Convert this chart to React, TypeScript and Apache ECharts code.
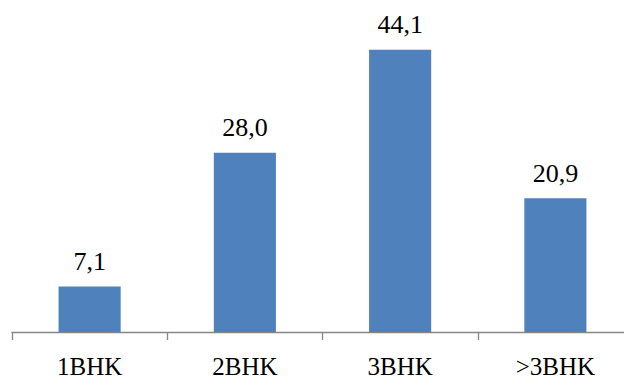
import React, { useEffect, useRef } from "react";
import * as echarts from "echarts";

// Apartment size categories and their shares (%)
const categories = ["1BHK", "2BHK", "3BHK", ">3BHK"];
const shares = [7.1, 28.0, 44.1, 20.9];

const fmt = (v: number) => v.toFixed(1).replace(".", ",");
const SERIF = "'Liberation Serif', 'Times New Roman', serif";

export default function App() {
  const ref = useRef<HTMLDivElement>(null);

  useEffect(() => {
    if (!ref.current) return;
    const chart = echarts.init(ref.current, null, { renderer: "svg" });
    chart.setOption({
      animation: false,
      backgroundColor: "#ffffff",
      grid: { left: 12, top: 12, width: 621, height: 320, outerBoundsMode: "none", containLabel: false },
      xAxis: {
        type: "category",
        data: categories,
        boundaryGap: true,
        axisLine: { lineStyle: { color: "#868686", width: 1.3 } },
        axisTick: { show: true, length: 8, lineStyle: { color: "#868686", width: 1.3 } },
        axisLabel: {
          color: "#000000",
          fontFamily: SERIF,
          fontSize: 25,
          margin: 22,
        },
      },
      yAxis: {
        type: "value",
        min: 0,
        max: 50,
        show: false,
        splitLine: { show: false },
      },
      series: [
        {
          type: "bar",
          data: shares,
          barWidth: "40%",
          itemStyle: { color: "#4F81BD" },
          label: {
            show: true,
            position: "top",
            distance: 12,
            color: "#000000",
            fontFamily: SERIF,
            fontSize: 26,
            formatter: (p: any) => fmt(p.value),
          },
        },
      ],
    });
    return () => chart.dispose();
  }, []);

  return (
    <div
      ref={ref}
      style={{ position: "absolute", left: 0, top: 0, width: 624, height: 379 }}
    />
  );
}
